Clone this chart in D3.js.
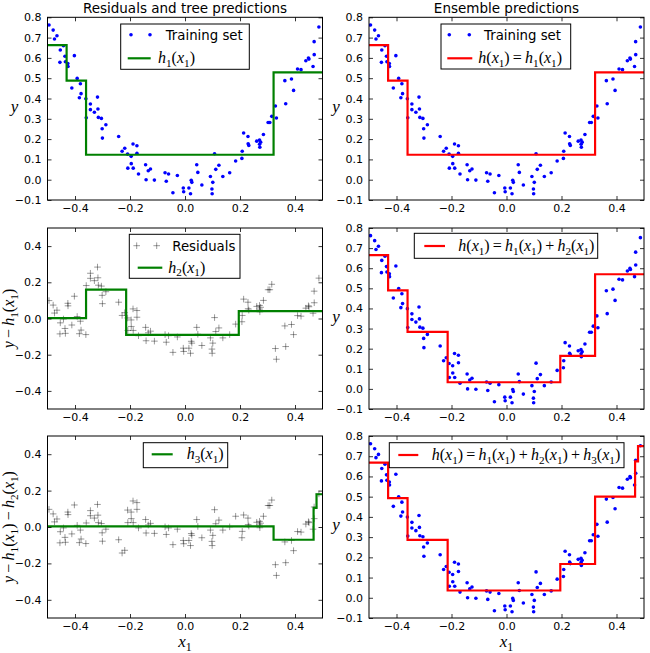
<!DOCTYPE html>
<html><head><meta charset="utf-8">
<script src="https://cdn.jsdelivr.net/npm/d3@7"></script>
<style>body{margin:0;background:#fff} svg{display:block}</style>
</head><body><svg id="c" width="650" height="653"></svg>
<script>
// ---- data ----
const xData = [-0.4945,-0.4794,-0.4746,-0.4656,-0.4548,-0.4535,-0.4419,-0.4364,-0.4349,-0.4260,-0.4254,
 -0.4115,-0.4023,-0.3921,-0.3841,-0.3804,-0.3780,-0.3605,
 -0.3591,-0.3440,-0.3440,-0.3295,-0.3182,-0.3166,-0.3151,-0.3040,-0.3013,-0.3003,-0.2877,
 -0.2412,-0.2287,-0.2191,-0.2088,-0.2079,-0.1958,-0.1954,-0.1890,-0.1883,-0.1748,-0.1747,-0.1691,
 -0.1432,-0.1415,-0.1336,-0.1255,-0.1113,-0.0725,-0.0681,-0.0598,-0.0439,-0.0278,-0.0062,-0.0048,
 0.0142,0.0201,0.0227,0.0248,0.0427,0.0467,0.0613,0.0924,0.0979,0.0987,
 0.1011,0.1075,0.1119,0.1233,0.1376,0.1625,0.1842,0.2069,0.2081,0.2132,0.2290,0.2296,0.2320,
 0.2608,0.2710,0.2713,0.2722,0.2751,0.2852,0.3022,0.3084,0.3155,
 0.3287,0.3324,0.3631,0.3662,0.3872,0.3948,0.4093,0.4219,0.4395,0.4489,0.4507,0.4656,0.4696,0.4699,0.4869];
const yData = [0.762,0.737,0.693,0.709,0.578,0.639,0.660,0.608,0.581,0.572,0.558,
 0.452,0.611,0.499,0.404,0.473,0.424,0.399,
 0.305,0.373,0.345,0.332,0.407,0.348,0.307,0.302,0.251,0.205,0.271,
 0.213,0.140,0.155,0.126,0.057,0.115,0.079,0.176,0.057,0.167,0.130,0.028,
 0.074,0.000,0.044,0.053,-0.002,0.034,-0.008,0.028,-0.064,0.021,-0.041,-0.059,
 -0.041,-0.069,-0.003,-0.013,0.074,0.036,-0.026,0.016,-0.046,-0.069,
 -0.013,0.128,0.051,0.071,0.016,0.034,0.092,0.105,0.140,0.230,0.213,0.177,0.169,
 0.190,0.195,0.175,0.160,0.185,0.223,0.282,0.282,0.312,
 0.363,0.304,0.488,0.374,0.496,0.440,0.545,0.542,0.586,0.599,0.594,0.558,0.680,0.616,0.752];
// tree predictions (split thresholds and leaf values)
const h1Splits = [-0.4305, -0.3598, 0.3221];
const h1Values = [0.663, 0.488, 0.123, 0.529];
const h2Splits = [-0.3598, -0.2140, 0.1956];
const h2Values = [0.002, 0.160, -0.090, 0.041];
const h3Splits = [0.3221, 0.4676, 0.4783];
const h3Values = [0.003, -0.070, 0.105, 0.180];
const xTicks = [-0.4, -0.2, 0.0, 0.2, 0.4];
const yTicksY = [-0.1, 0.0, 0.1, 0.2, 0.3, 0.4, 0.5, 0.6, 0.7, 0.8];
const yTicksRes = [-0.4, -0.2, 0.0, 0.2, 0.4];

// ---- helpers ----
const h1 = {s:h1Splits, v:h1Values}, h2 = {s:h2Splits, v:h2Values}, h3 = {s:h3Splits, v:h3Values};
function evalTree(t, x){ let i=0; while(i<t.s.length && x>=t.s[i]) i++; return t.v[i]; }
function sumTrees(ts, x){ return ts.reduce((a,t)=>a+evalTree(t,x),0); }
function stepPoints(ts){
  const splits = Array.from(new Set(ts.flatMap(t=>t.s))).sort((a,b)=>a-b);
  const edges = [-0.5, ...splits, 0.5];
  const pts = [];
  for(let i=0;i<edges.length-1;i++){
    const v = sumTrees(ts, (edges[i]+edges[i+1])/2);
    pts.push([edges[i], v], [edges[i+1], v]);
  }
  return pts;
}
const res1 = yData.map((y,i)=> y - evalTree(h1, xData[i]));
const res2 = yData.map((y,i)=> y - evalTree(h1, xData[i]) - evalTree(h2, xData[i]));

const svg = d3.select('#c');
const MATHF = "'Liberation Serif', 'Times New Roman', serif";
const SANS = "'DejaVu Sans', sans-serif";

// math renderer: letters italic, _d subscripts, operators spaced
function math(g, x, y, str, size, opts={}){
  const t = g.append('text').attr('x', x).attr('y', y)
    .attr('font-family', MATHF).attr('font-size', size).attr('fill', '#000');
  if(opts.anchor) t.attr('text-anchor', opts.anchor);
  if(opts.transform) t.attr('transform', opts.transform);
  let shifted = 0, pendDx = 0;
  const gap = size*0.2;
  let i = 0;
  while(i < str.length){
    const c = str[i];
    if(c === ' '){ i++; continue; }
    if(c === '_'){
      const d = str[i+1];
      const sp = t.append('tspan').attr('font-style','normal').attr('font-size', size*0.7)
        .attr('dy', size*0.22 - shifted).text(d);
      if(pendDx){ sp.attr('dx', pendDx); pendDx = 0; }
      shifted = size*0.22; i += 2; continue;
    }
    const sp = t.append('tspan');
    if(shifted){ sp.attr('dy', -shifted); shifted = 0; }
    let dx = pendDx; pendDx = 0;
    if(/[a-z]/.test(c)){ sp.attr('font-style','italic').text(c); }
    else if(c==='=' || c==='+' || c==='−'){ sp.attr('font-style','normal').text(c); dx += gap; pendDx = gap; }
    else { sp.attr('font-style','normal').text(c); }
    if(dx) sp.attr('dx', dx);
    i++;
  }
  return t;
}

const cols = [{x0:47.5, x1:322.5}, {x0:369, x1:644}];
const rows = [{y0:17.3, y1:200}, {y0:228, y1:409}, {y0:436, y1:618}];

const panels = [
  {c:0, r:0, dom:[-0.1,0.8], yt:yTicksY, kind:'dots', trees:[h1], color:'#008000',
   title:'Residuals and tree predictions', ylab:'y', ylabRot:false,
   legend:{box:[120.7,24,128.6,45.3], marker:'dot', mx:[131,150], my:34.7, label:'Training set', lx:165.7,
           line:[127.7,150.7,58.3], math:'h_1(x_1)', mathx:158}},
  {c:1, r:0, dom:[-0.1,0.8], yt:yTicksY, kind:'dots', trees:[h1], color:'#ff0000',
   title:'Ensemble predictions', ylab:'y', ylabRot:false,
   legend:{box:[441,24,129.7,45], marker:'dot', mx:[449.3,469.3], my:34.7, label:'Training set', lx:484,
           line:[447.3,472.3,58.3], math:'h(x_1) = h_1(x_1)', mathx:478.3}},
  {c:0, r:1, dom:[-0.5,0.5], yt:yTicksRes, kind:'cross', vals:res1, trees:[h2], color:'#008000',
   ylab:'y − h_1(x_1)', ylabRot:true,
   legend:{box:[129.3,234.3,110.7,44], marker:'cross', mx:[136.7,156.7], my:245.7, label:'Residuals', lx:172.3,
           line:[137.7,162.3,267.7], math:'h_2(x_1)', mathx:168.3}},
  {c:1, r:1, dom:[-0.1,0.8], yt:yTicksY, kind:'dots', trees:[h1,h2], color:'#ff0000',
   ylab:'y', ylabRot:false,
   legend:{box:[414.3,233.3,183.4,25], line:[424.3,445,246], math:'h(x_1) = h_1(x_1) + h_2(x_1)', mathx:458.3}},
  {c:0, r:2, dom:[-0.5,0.5], yt:yTicksRes, kind:'cross', vals:res2, trees:[h3], color:'#008000',
   ylab:'y − h_1(x_1) − h_2(x_1)', ylabRot:true, xlab:true,
   legend:{box:[143.3,442.7,84.4,25], line:[151.7,172.7,454.3], math:'h_3(x_1)', mathx:186.7}},
  {c:1, r:2, dom:[-0.1,0.8], yt:yTicksY, kind:'dots', trees:[h1,h2,h3], color:'#ff0000',
   ylab:'y', ylabRot:false, xlab:true,
   legend:{box:[389.3,442.7,234.7,25], line:[398.3,418.3,455], math:'h(x_1) = h_1(x_1) + h_2(x_1) + h_3(x_1)', mathx:431.7}},
];

const fmt = d3.format('.1f');

panels.forEach((p, pi)=>{
  const C = cols[p.c], R = rows[p.r];
  const xs = d3.scaleLinear().domain([-0.5,0.5]).range([C.x0, C.x1]);
  const ys = d3.scaleLinear().domain(p.dom).range([R.y1, R.y0]);
  const g = svg.append('g');
  const clipId = 'clip'+pi;
  svg.append('clipPath').attr('id', clipId).append('rect')
    .attr('x', C.x0).attr('y', R.y0).attr('width', C.x1-C.x0).attr('height', R.y1-R.y0);
  const plot = g.append('g').attr('clip-path', `url(#${clipId})`);

  // points
  if(p.kind === 'dots'){
    plot.selectAll('circle').data(xData).join('circle')
      .attr('cx', d=>xs(d)).attr('cy', (d,i)=>ys(yData[i])).attr('r', 1.8).attr('fill', '#0000ff');
  } else {
    const s = 3.3;
    plot.selectAll('path.cr').data(xData).join('path').attr('class','cr')
      .attr('d', (d,i)=>{ const cx=xs(d), cy=ys(p.vals[i]); return `M${cx-s},${cy}H${cx+s}M${cx},${cy-s}V${cy+s}`; })
      .attr('stroke', '#000').attr('stroke-opacity', 0.4).attr('stroke-width', 1).attr('fill','none');
  }
  // step line
  const line = d3.line().x(d=>xs(d[0])).y(d=>ys(d[1]));
  plot.append('path').attr('d', line(stepPoints(p.trees)))
    .attr('fill','none').attr('stroke', p.color).attr('stroke-width', 2.2).attr('stroke-linejoin','miter');

  // axes with inward ticks on all sides
  const axB = d3.axisBottom(xs).tickValues(xTicks).tickFormat(fmt).tickSizeInner(-4).tickSizeOuter(0).tickPadding(4);
  const axT = d3.axisTop(xs).tickValues(xTicks).tickFormat('').tickSizeInner(-4).tickSizeOuter(0);
  const axL = d3.axisLeft(ys).tickValues(p.yt).tickFormat(fmt).tickSizeInner(-4).tickSizeOuter(0).tickPadding(6);
  const axR = d3.axisRight(ys).tickValues(p.yt).tickFormat('').tickSizeInner(-4).tickSizeOuter(0);
  const styleAx = sel => { sel.select('.domain').remove();
    sel.selectAll('text').attr('font-family', SANS).attr('font-size', 11).attr('fill','#000');
    sel.selectAll('line').attr('stroke','#000').attr('stroke-width',0.8); };
  const noText = sel => sel.selectAll('text').remove();
  g.append('g').attr('transform',`translate(0,${R.y1})`).call(axB).call(styleAx);
  g.append('g').attr('transform',`translate(0,${R.y0})`).call(axT).call(styleAx).call(noText);
  g.append('g').attr('transform',`translate(${C.x0},0)`).call(axL).call(styleAx);
  g.append('g').attr('transform',`translate(${C.x1},0)`).call(axR).call(styleAx).call(noText);
  g.append('rect').attr('x',C.x0).attr('y',R.y0).attr('width',C.x1-C.x0).attr('height',R.y1-R.y0)
    .attr('fill','none').attr('stroke','#000').attr('stroke-width',1);

  // title
  if(p.title){
    g.append('text').attr('x',(C.x0+C.x1)/2).attr('y',13).attr('text-anchor','middle')
      .attr('font-family',SANS).attr('font-size',13.5).attr('fill','#000').text(p.title);
  }
  // y label
  const midY = (R.y0+R.y1)/2;
  if(p.ylabRot){
    const lx = 14;
    math(g, lx, midY, p.ylab, 16, {anchor:'middle', transform:`rotate(-90,${lx},${midY})`});
  } else {
    math(g, C.x0-33, midY+3, p.ylab, 17, {anchor:'middle'});
  }
  if(p.xlab){
    math(g, (C.x0+C.x1)/2, 647, 'x_1', 17, {anchor:'middle'});
  }

  // legend
  const L = p.legend;
  const lg = g.append('g');
  lg.append('rect').attr('x',L.box[0]).attr('y',L.box[1]).attr('width',L.box[2]).attr('height',L.box[3])
    .attr('fill','#fff').attr('stroke','#000').attr('stroke-width',1);
  if(L.marker === 'dot'){
    L.mx.forEach(mx=> lg.append('circle').attr('cx',mx).attr('cy',L.my).attr('r',1.8).attr('fill','#0000ff'));
  } else if(L.marker === 'cross'){
    L.mx.forEach(mx=> lg.append('path').attr('d',`M${mx-3.3},${L.my}H${mx+3.3}M${mx},${L.my-3.3}V${L.my+3.3}`)
      .attr('stroke','#000').attr('stroke-opacity',0.4).attr('stroke-width',1));
  }
  if(L.label){
    lg.append('text').attr('x',L.lx).attr('y',L.my+5).attr('font-family',SANS).attr('font-size',13.3)
      .attr('fill','#000').text(L.label);
  }
  lg.append('line').attr('x1',L.line[0]).attr('x2',L.line[1]).attr('y1',L.line[2]).attr('y2',L.line[2])
    .attr('stroke',p.color).attr('stroke-width',2.2);
  math(lg, L.mathx, L.line[2]+5, L.math, 16);
});
</script></body></html>
